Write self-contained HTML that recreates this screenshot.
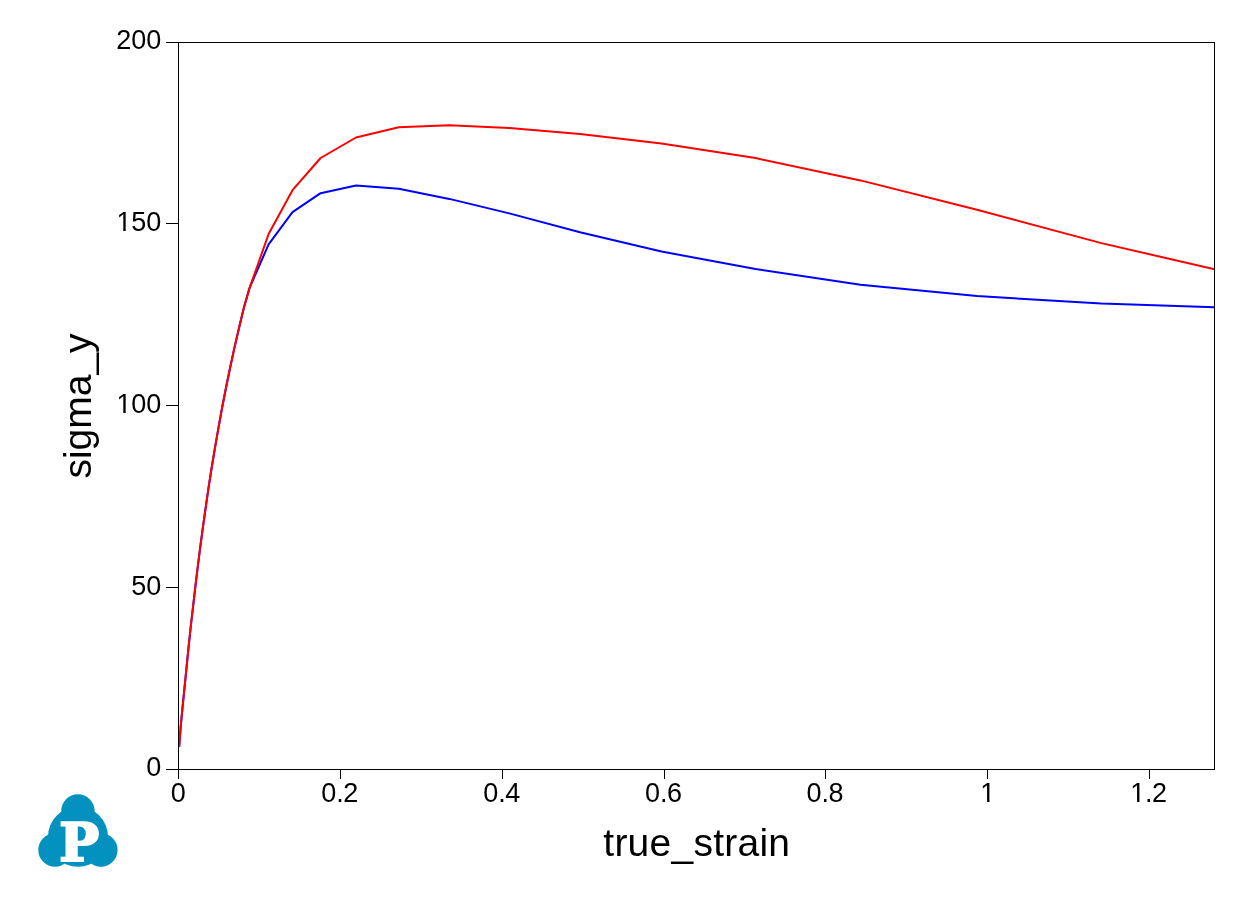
<!DOCTYPE html>
<html lang="en"><head><meta charset="utf-8"><title>sigma_y vs true_strain</title>
<style>
html,body{margin:0;padding:0;background:#fff;}
body{width:1247px;height:907px;overflow:hidden;}
svg{display:block;}
text{font-family:"Liberation Sans",Arial,Helvetica,sans-serif;fill:#000;}
.tk{font-size:27px;}
.lb{font-size:39px;}
.lb2{font-size:39px;}
.lp{font-family:"DejaVu Serif","Liberation Serif",serif;font-weight:bold;font-size:53px;fill:#fff;stroke:#fff;stroke-width:2.2px;stroke-linejoin:miter;text-rendering:geometricPrecision;}
.ax{stroke:#000;stroke-width:1;fill:none;shape-rendering:crispEdges;}
.ln{fill:none;stroke-width:2;stroke-linejoin:round;stroke-linecap:butt;}
</style></head><body>
<svg width="1247" height="907" viewBox="0 0 1247 907">
<rect x="0" y="0" width="1247" height="907" fill="#ffffff"/>
<g class="curves">
<polyline class="ln" stroke="#0000ff" points="179.2,746.6 180.7,726.7 182.6,706.7 184.6,686.8 186.6,666.9 188.6,646.9 190.7,627.0 193.0,607.1 195.3,587.1 197.7,567.2 200.2,547.3 202.9,527.3 205.7,507.4 208.6,487.4 211.7,467.5 215.0,447.6 218.5,427.6 222.1,407.7 226.0,387.8 230.1,367.8 234.4,347.9 239.0,328.0 243.8,308.0 249.5,288.1 268.6,244.4 292.5,212.2 320.6,193.2 356.0,185.5 398.8,188.8 449.3,198.9 509.3,213.4 580.0,232.2 661.5,251.5 755.5,269.1 860.5,284.7 977.0,296.0 1101.4,303.6 1214.5,307.2"/>
<polyline class="ln" stroke="#ff0000" points="179.2,746.6 180.7,726.7 182.6,706.7 184.6,686.8 186.6,666.9 188.6,646.9 190.7,627.0 193.0,607.1 195.3,587.1 197.7,567.2 200.2,547.3 202.9,527.3 205.7,507.4 208.6,487.4 211.7,467.5 215.0,447.6 218.5,427.6 222.1,407.7 226.0,387.8 230.1,367.8 234.4,347.9 239.0,328.0 243.8,308.0 249.5,288.1 268.6,234.1 292.5,190.2 320.6,158.0 356.0,137.5 398.8,127.2 449.3,125.2 509.3,127.9 580.0,134.1 661.5,143.4 755.5,158.1 860.5,180.4 977.0,209.8 1101.4,243.1 1214.5,269.3"/>
</g>
<g class="axes">
<rect class="ax" x="178.5" y="42.5" width="1036" height="727"/>
<line class="ax" x1="178.5" y1="769.5" x2="178.5" y2="779"/>
<line class="ax" x1="340.5" y1="769.5" x2="340.5" y2="779"/>
<line class="ax" x1="502.5" y1="769.5" x2="502.5" y2="779"/>
<line class="ax" x1="664.5" y1="769.5" x2="664.5" y2="779"/>
<line class="ax" x1="825.5" y1="769.5" x2="825.5" y2="779"/>
<line class="ax" x1="987.5" y1="769.5" x2="987.5" y2="779"/>
<line class="ax" x1="1149.5" y1="769.5" x2="1149.5" y2="779"/>
<line class="ax" x1="166" y1="769.5" x2="178.5" y2="769.5"/>
<line class="ax" x1="166" y1="587.5" x2="178.5" y2="587.5"/>
<line class="ax" x1="166" y1="405.5" x2="178.5" y2="405.5"/>
<line class="ax" x1="166" y1="223.5" x2="178.5" y2="223.5"/>
<line class="ax" x1="166" y1="42.5" x2="178.5" y2="42.5"/>
</g>
<g class="ticklabels">
<text class="tk" x="170.80" y="802">0</text>
<text class="tk" x="321.20 336.20 343.20" y="802">0.2</text>
<text class="tk" x="483.20 498.20 505.20" y="802">0.4</text>
<text class="tk" x="645.00 660.00 667.00" y="802">0.6</text>
<text class="tk" x="806.60 821.60 828.60" y="802">0.8</text>
<text class="tk" x="980.30" y="802">1</text>
<text class="tk" x="1130.30 1145.00 1152.00" y="802">1.2</text>
<text class="tk" x="146.20" y="776">0</text>
<text class="tk" x="131.20 146.20" y="595">50</text>
<text class="tk" x="116.50 131.20 146.20" y="413">100</text>
<text class="tk" x="116.50 131.20 146.20" y="231">150</text>
<text class="tk" x="116.20 131.20 146.20" y="49">200</text>
<rect x="981.56" y="799.83" width="5.53" height="3.02" fill="#ffffff"/>
<rect x="989.48" y="799.83" width="5.32" height="3.02" fill="#ffffff"/>
<rect x="1131.56" y="799.83" width="5.53" height="3.02" fill="#ffffff"/>
<rect x="1139.48" y="799.83" width="5.32" height="3.02" fill="#ffffff"/>
<rect x="117.76" y="410.83" width="5.53" height="3.02" fill="#ffffff"/>
<rect x="125.68" y="410.83" width="5.32" height="3.02" fill="#ffffff"/>
<rect x="117.76" y="228.83" width="5.53" height="3.02" fill="#ffffff"/>
<rect x="125.68" y="228.83" width="5.32" height="3.02" fill="#ffffff"/>
</g>
<text class="lb" x="603.3" y="855.5" style="letter-spacing:0.25px">true_strain</text>
<text class="lb2" transform="translate(91 478.6) rotate(-90)">sigma_y</text>
<g class="logo">
<g fill="#0391bf">
<circle cx="78" cy="836.7" r="30"/>
<circle cx="77.9" cy="810.9" r="16.65"/>
<circle cx="55" cy="850" r="16.7"/>
<circle cx="100.9" cy="850" r="16.7"/>
</g>
<text class="lp" transform="translate(59.2 861.45) scale(1 1)">P</text>
</g>
</svg>
</body></html>
